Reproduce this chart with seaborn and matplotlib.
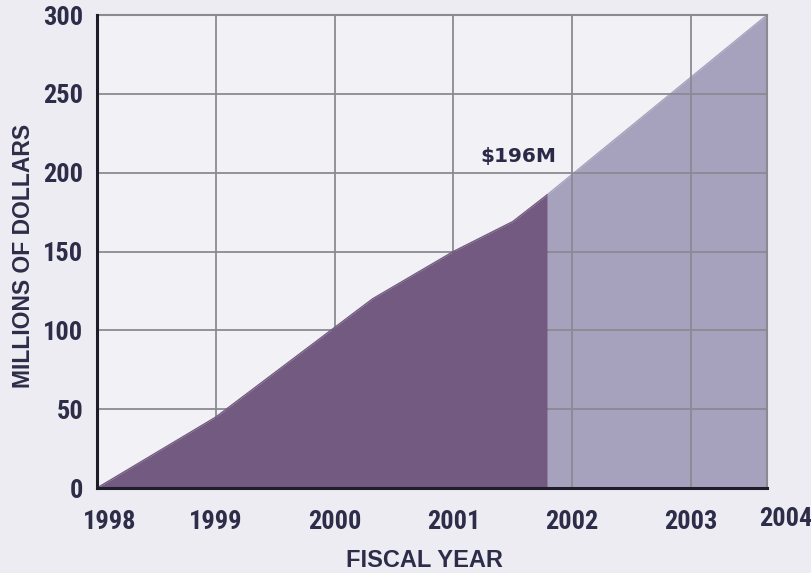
import pandas as pd
import numpy as np
import matplotlib
matplotlib.use("Agg")
import matplotlib.pyplot as plt
import matplotlib.transforms as mtransforms
from matplotlib import font_manager
import seaborn as sns

# values (millions of dollars)
actual_years = [1998.0, 1999.0, 2000.32, 2001.0, 2001.5, 2001.79]
actual_funds = [0, 45, 120, 150, 169, 186]
proj_years = [2001.79, 2003.64]
proj_funds = [186, 300]
tick_years = [1998, 1999, 2000, 2001, 2002, 2003]
y_ticks = [0, 50, 100, 150, 200, 250, 300]
callout = "$196M"

df_actual = pd.DataFrame({"year": actual_years, "funds": actual_funds})
df_proj = pd.DataFrame({"year": proj_years, "funds": proj_funds})

sns.set_theme(style="whitegrid")
plt.rcParams['font.family'] = ['Liberation Sans', 'DejaVu Sans']

# pick a condensed face for the tick numbers if there is one
installed = {f.name for f in font_manager.fontManager.ttflist}
narrow = "Liberation Sans"
for name in ["Liberation Sans Narrow", "DejaVu Sans Condensed", "Roboto Condensed", "Open Sans Condensed"]:
    if name in installed:
        narrow = name
        break

text_col = "#2d2d4a"
dark = "#735a80"
light = "#a6a1bd"

fig = plt.figure(figsize=(8.11, 5.73), dpi=100, facecolor="#ececf2")
ax = fig.add_axes([0.1196, 0.1483, 0.8261, 0.8255])
ax.set_facecolor("#f1f1f6")

# projected part sits under the grid, actual part over it
ax.fill_between(df_proj["year"], df_proj["funds"], color=light, lw=0, zorder=1)
ax.fill_between(df_actual["year"], df_actual["funds"], color=dark, lw=0, zorder=2)
sns.lineplot(data=df_actual, x="year", y="funds", color=dark, lw=1, ax=ax, zorder=2)
sns.lineplot(data=df_proj, x="year", y="funds", color=light, lw=1, ax=ax, zorder=1)

ax.set_xlim(1998, 2003.64)
ax.set_ylim(0, 300)
ax.set_xticks(tick_years)
ax.set_yticks(y_ticks)
ax.set_axisbelow('line')
ax.grid(True, color="#8a8a92", lw=1.3)

tick_font = dict(family=narrow, weight='bold', size=17 if narrow == "Liberation Sans" else 19)
ax.set_xticklabels([str(y) for y in tick_years], color=text_col, **tick_font)
ax.set_yticklabels([str(v) for v in y_ticks], color=text_col, **tick_font)
ax.tick_params(axis='x', length=0, pad=16)
ax.tick_params(axis='y', length=0, pad=10)

# first label sits a bit right of the axis
first = ax.get_xticklabels()[0]
first.set_transform(first.get_transform() + mtransforms.ScaledTranslation(13 / 100, 0, fig.dpi_scale_trans))
ax.text(2004, 0, "2004", transform=ax.get_xaxis_transform() + mtransforms.ScaledTranslation(-24 / 100, -0.19, fig.dpi_scale_trans),
        ha='center', va='top', color=text_col, clip_on=False, **tick_font)

for side in ["top", "right"]:
    ax.spines[side].set_color("#8a8a92")
    ax.spines[side].set_linewidth(1.5)
for side in ["left", "bottom"]:
    ax.spines[side].set_color("#1e1e2a")
    ax.spines[side].set_linewidth(2.2)
    ax.spines[side].set_zorder(3)

ax.set_xlabel("FISCAL YEAR", fontsize=17, weight='bold', color=text_col)
ax.xaxis.set_label_coords(0.488, -0.128)
ax.set_ylabel("MILLIONS OF DOLLARS", fontsize=16.5, weight='bold', color=text_col)
ax.yaxis.set_label_coords(-0.092, 0.49)

ax.text(2001.55, 210, callout, ha='center', va='center', fontsize=14.5, weight='heavy',
        color="#2a2a48", family=['DejaVu Sans'], zorder=4)

fig.savefig("out.png", dpi=100, facecolor=fig.get_facecolor())
